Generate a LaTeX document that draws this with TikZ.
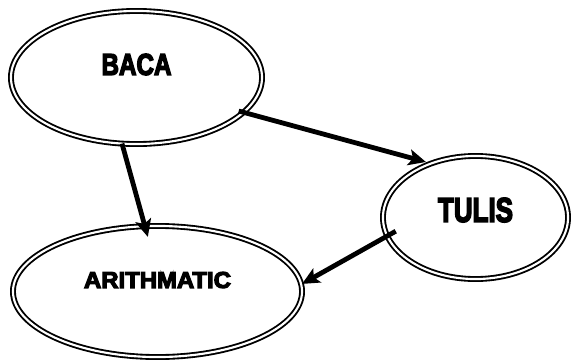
\documentclass[tikz,border=0pt]{standalone}
\usepackage{fontspec}
\setmainfont{Liberation Sans}[BoldFeatures={FakeBold=5}]
\usepackage{graphicx}
\usetikzlibrary{shapes.geometric,arrows.meta}

\tikzset{
  ring/.style={ellipse, draw, double, line width=1.4pt, double distance=1.6pt, inner sep=0pt},
  link/.style={-{Stealth[length=13pt,width=12pt,inset=3pt]}, line width=3.6pt},
}
\newcommand{\word}[3]{\resizebox{#1}{#2}{\bfseries #3}}

\begin{document}
\begin{tikzpicture}[x=0.75pt,y=0.75pt,yscale=-1,xscale=1]
    \useasboundingbox (0,0) rectangle (572,361);

    % Ellipse [id:baca]
    \node[ring, minimum width=188.3pt, minimum height=99.8pt,
      label={[yshift=9.75pt]center:\word{52.5pt}{15.75pt}{BACA}}] (baca) at (136.5,77.5) {};
    % Ellipse [id:arith]
    \node[ring, minimum width=216.8pt, minimum height=98.3pt,
      label={[yshift=8.6pt]center:\word{110.25pt}{12pt}{ARITHMATIC}}] (arith) at (157.5,291.5) {};
    % Ellipse [id:tulis]
    \node[ring, minimum width=138.8pt, minimum height=92.3pt,
      label={[yshift=5.6pt]center:\word{56.25pt}{18pt}{TULIS}}] (tulis) at (475.5,217.5) {};

    % Arrows
    \draw[link, shorten <=-4.5pt, shorten >=3pt] (baca.-18) -- (tulis.130);
    \draw[link, shorten <=-0.75pt, shorten >=-9pt] (baca.-102) -- (arith.101);
    \draw[link, shorten <=-8pt] (tulis.192.6) -- (arith.3.7);
\end{tikzpicture}
\end{document}
